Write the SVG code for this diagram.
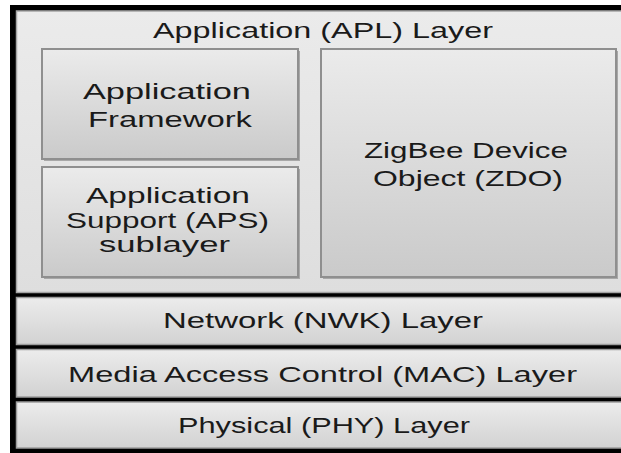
<svg xmlns="http://www.w3.org/2000/svg" width="621" height="453" viewBox="0 0 621 453">
  <defs>
    <linearGradient id="gBox" x1="0" y1="0" x2="0" y2="1">
      <stop offset="0" stop-color="#ebebeb"/>
      <stop offset="1" stop-color="#cacaca"/>
    </linearGradient>
    <linearGradient id="gLayer" x1="0" y1="0" x2="0" y2="1">
      <stop offset="0" stop-color="#ececec"/>
      <stop offset="1" stop-color="#d2d2d2"/>
    </linearGradient>
    <linearGradient id="gApl" x1="0" y1="0" x2="0" y2="1">
      <stop offset="0" stop-color="#ebebeb"/>
      <stop offset="1" stop-color="#dedede"/>
    </linearGradient>
  </defs>
  <style>
    text { font-family: "Liberation Sans", Arial, sans-serif; font-size: 22px; fill: #1a1a1a; text-anchor: middle; }
    .aps { font-size: 21.5px; }
    .box { fill: url(#gBox); stroke: #8f8f8f; stroke-width: 2; }
    .shadow { fill: #a8a8a8; }
    .layer { fill: url(#gLayer); stroke: #9c9c9c; stroke-width: 1.5; }
  </style>

  <rect x="0" y="0" width="621" height="453" fill="#ffffff"/>
  <!-- black frame and separators -->
  <rect x="10" y="5" width="611" height="448" fill="#000000"/>

  <g id="apl-layer">
    <rect x="16.5" y="11" width="610" height="281.5" fill="url(#gApl)" stroke="#a5a5a5" stroke-width="1.5"/>
    <text x="323" y="37.5" textLength="340" lengthAdjust="spacingAndGlyphs">Application (APL) Layer</text>
  </g>

  <g id="app-framework">
    <rect class="shadow" x="44" y="51" width="256" height="110"/>
    <rect class="box" x="42" y="49" width="256" height="110"/>
    <text>
      <tspan x="170" y="99" textLength="168" lengthAdjust="spacingAndGlyphs">Application</tspan>
      <tspan x="170" y="127" textLength="164" lengthAdjust="spacingAndGlyphs">Framework</tspan>
    </text>
  </g>

  <g id="aps-sublayer">
    <rect class="shadow" x="44" y="169" width="256" height="110"/>
    <rect class="box" x="42" y="167" width="256" height="110"/>
    <text class="aps">
      <tspan x="171" y="203" textLength="164" lengthAdjust="spacingAndGlyphs">Application</tspan>
      <tspan x="170.5" y="227.5" textLength="203" lengthAdjust="spacingAndGlyphs">Support (APS)</tspan>
      <tspan x="164.5" y="252" textLength="131" lengthAdjust="spacingAndGlyphs">sublayer</tspan>
    </text>
  </g>

  <g id="zdo">
    <rect class="shadow" x="323" y="51" width="295" height="228"/>
    <rect class="box" x="321" y="49" width="295" height="228"/>
    <text>
      <tspan x="469" y="158" textLength="204" lengthAdjust="spacingAndGlyphs">ZigBee Device</tspan>
      <tspan x="468" y="186" textLength="190" lengthAdjust="spacingAndGlyphs">Object (ZDO)</tspan>
    </text>
  </g>

  <g id="nwk-layer">
    <rect class="layer" x="16.5" y="297.5" width="610" height="47"/>
    <text x="323" y="328" textLength="320" lengthAdjust="spacingAndGlyphs">Network (NWK) Layer</text>
  </g>

  <g id="mac-layer">
    <rect class="layer" x="16.5" y="349.5" width="610" height="47.5"/>
    <text x="322.5" y="382" textLength="509" lengthAdjust="spacingAndGlyphs">Media Access Control (MAC) Layer</text>
  </g>

  <g id="phy-layer">
    <rect class="layer" x="16.5" y="402" width="610" height="46"/>
    <text x="324" y="433" textLength="292" lengthAdjust="spacingAndGlyphs">Physical (PHY) Layer</text>
  </g>
</svg>
